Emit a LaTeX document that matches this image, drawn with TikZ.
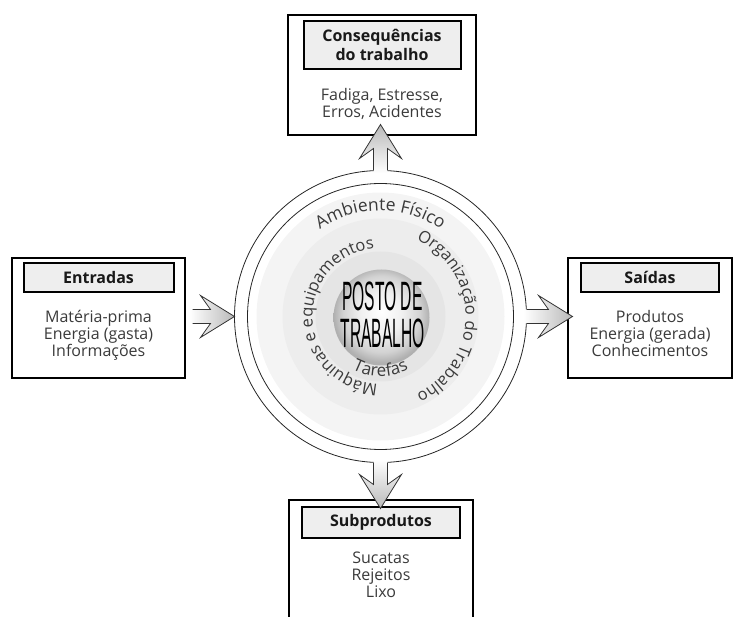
\documentclass[tikz,border=0pt]{standalone}
\usepackage{fontspec}
\setmainfont{Open Sans}
\newfontfamily\postofont{Liberation Sans}
\usetikzlibrary{positioning, calc, decorations.text}

\definecolor{txtgray}{HTML}{3A3A3A}
\newcommand{\ringfont}{\fontsize{16.5}{18}\selectfont}
\pgfdeclareradialshading{sphereshade}{\pgfpoint{0bp}{3bp}}{%
  color(0bp)=(white); color(11bp)=(gray!12); color(20bp)=(gray!35);
  color(25bp)=(gray!62); color(50bp)=(gray!62)}

\tikzset{
  pics/fatarrow/.style={code={
    \path[arrowfill] (-3,-7) -- (#1-24,-7) -- (#1-34,-21) -- (#1,0)
      -- (#1-34,21) -- (#1-24,7) -- (-3,7) -- cycle;
    \draw[line width=.8pt, black!80] (0,-7) -- (#1-24,-7) -- (#1-34,-21) -- (#1,0)
      -- (#1-34,21) -- (#1-24,7) -- (0,7);
  }}
}

\begin{document}
\begin{tikzpicture}[x=1pt, y=1pt, outer sep=0pt,
    ringtext/.style={decorate, decoration={text along path, text align=center, text color=txtgray}}]
  \tikzstyle{box}=[rectangle, draw=black, line width=2pt]
  \tikzstyle{titlebox}=[box, fill=gray!13, align=center, text=black!90,
    font=\fontsize{16}{18.5}\selectfont\bfseries]
  \tikzstyle{body}=[align=center, text=txtgray, font=\fontsize{16}{17}\selectfont]
  \tikzstyle{disc}=[circle, inner sep=0pt]
  \useasboundingbox (0,0) rectangle (739,-617);

  % Boxes
  \node[box, minimum width=188pt, minimum height=120pt] (cons) at (382,-75) {};
  \node[titlebox, minimum width=157pt, minimum height=48pt, below=6pt of cons.north] (consT) {Consequências\\do trabalho};
  \node[body, below=16pt of consT] (consB) {Fadiga, Estresse,\\Erros, Acidentes};

  \node[box, minimum width=173pt, minimum height=120pt] (entr) at (98.5,-318) {};
  \node[titlebox, minimum width=150pt, minimum height=29pt, below=5pt of entr.north] (entrT) {Entradas};
  \node[body, below=15pt of entrT] (entrB) {Matéria-prima\\Energia (gasta)\\Informações};

  \node[box, minimum width=164pt, minimum height=120pt] (said) at (650,-318) {};
  \node[titlebox, minimum width=138pt, minimum height=29pt, below=5pt of said.north] (saidT) {Saídas};
  \node[body, below=15pt of saidT] (saidB) {Produtos\\Energia (gerada)\\Conhecimentos};

  \node[box, minimum width=184pt, minimum height=140pt] (subp) at (381,-570) {};
  \node[titlebox, minimum width=158pt, minimum height=31pt, below=7pt of subp.north] (subpT) {Subprodutos};
  \node[body, below=11pt of subpT] (subpB) {Sucatas\\Rejeitos\\Lixo};

  % Work system
  \node[circle, draw=black!85, line width=.8pt, minimum size=292pt] (ring) at (380.5,-316.5) {};
  \node[circle, draw=black!85, line width=.8pt, minimum size=266pt] (ringin) at (ring.center) {};
  \node[disc, fill=gray!9, minimum size=248pt] (env) at (ring.center) {};
  \node[disc, fill=gray!14, minimum size=196pt] (org) at (ring.center) {};
  \node[disc, fill=gray!20, minimum size=130pt] (maq) at (ring.center) {};
  \node[disc, shading=sphereshade, minimum size=96pt] (posto) at ($(ring.center)+(1,-1)$) {};
  \node[align=center, xscale=.38, text=black, font=\postofont\fontsize{41}{37}\selectfont] (postoT) at ($(posto)+(1,3)$) {POSTO DE\\TRABALHO};

  \path[ringtext, decoration={text={|\fontsize{17.5}{18}\selectfont|Ambiente Físico}}]
    ($(ring.center)+(170:106)$) arc[start angle=170, end angle=10, radius=106];
  \path[ringtext, decoration={text={|\ringfont|Organização do Trabalho}}]
    ($(ring.center)+(88:85)$) arc[start angle=88, end angle=-88, radius=85];
  \path[ringtext, decoration={text={|\ringfont|Máquinas e equipamentos}}]
    ($(ring.center)+(285:68)$) arc[start angle=285, end angle=78, radius=68];
  \path[ringtext, decoration={text={|\fontsize{17}{18}\selectfont|Tarefas}}]
    ($(ring.center)+(225:60)$) arc[start angle=225, end angle=315, radius=60];

  % Flows
  \pic[arrowfill/.style={left color=white, right color=gray!55}] at ($(ring.west)+(-42,0)$) {fatarrow=42};
  \pic[arrowfill/.style={left color=white, right color=gray!55}] at (ring.east) {fatarrow=46};
  \pic[rotate=90, arrowfill/.style={bottom color=white, top color=gray!55}] at (ring.north) {fatarrow=46};
  \pic[rotate=-90, arrowfill/.style={top color=white, bottom color=gray!55}] at (ring.south) {fatarrow=46};
\end{tikzpicture}
\end{document}
